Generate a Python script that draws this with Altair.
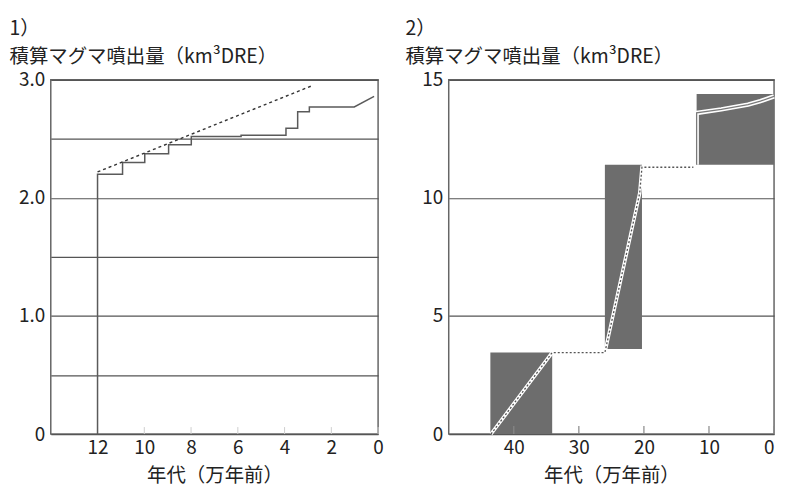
import altair as alt
import pandas as pd

FONT = "Noto Sans CJK JP"
TXT = "#222222"

# ---------------- Panel 1 data ----------------
p1_step_age = [12, 12, 10.93, 10.93, 9.98, 9.98, 8.96, 8.96, 7.99, 7.99, 5.86, 5.86,
               3.94, 3.94, 3.44, 3.44, 2.94, 2.94, 1.02, 0.17]
p1_step_vol = [0, 2.20, 2.20, 2.30, 2.30, 2.375, 2.375, 2.45, 2.45, 2.52, 2.52, 2.53,
               2.53, 2.59, 2.59, 2.73, 2.73, 2.77, 2.77, 2.86]
p1_trend_age = [12, 2.83]
p1_trend_vol = [2.22, 2.95]
p1_xticks = [12, 10, 8, 6, 4, 2, 0]
p1_yticks = [0, 0.5, 1.0, 1.5, 2.0, 2.5, 3.0]
p1_xdomain = [0, 14]
p1_ydomain = [0, 3]

# ---------------- Panel 2 data ----------------
p2_box_age_old = [43.6, 26.0, 11.9]
p2_box_age_young = [34.1, 20.3, 0]
p2_box_vol_low = [0, 3.6, 11.4]
p2_box_vol_high = [3.45, 11.4, 14.4]
p2_trend_age = [43.5, 34.1, 26.0, 20.65, 20.3, 12.4]
p2_trend_vol = [0, 3.45, 3.45, 10.2, 11.3, 11.3]
p2_recent_age = [11.9, 11.9, 8.1, 4.0, 2.1, 0]
p2_recent_vol = [11.4, 13.6, 13.75, 13.95, 14.1, 14.3]
p2_xticks = [40, 30, 20, 10, 0]
p2_yticks = [0, 5, 10, 15]
p2_xdomain = [0, 50]
p2_ydomain = [0, 15]

y_title_1 = ["1）", "積算マグマ噴出量（km³DRE）"]
y_title_2 = ["2）", "積算マグマ噴出量（km³DRE）"]
x_title = "年代（万年前）"

W1, W2, H = 329, 327, 356
LABEL_FS = 19
TITLE_FS = 19.5


def x_axis(ticks, flush):
    return alt.Axis(values=ticks, grid=False, domain=False, ticks=False,
                    labelPadding=5, labelFontSize=LABEL_FS, labelColor=TXT,
                    labelFlush=flush, labelFlushOffset=0,
                    title=x_title, titleFontSize=TITLE_FS, titleFontWeight="normal",
                    titleColor=TXT, titleY=42, titleBaseline="middle")


def y_axis(ticks, title, title_x, label_expr):
    return alt.Axis(values=ticks, grid=True, gridColor="#555555", gridWidth=1.2,
                    domain=False, ticks=False, labelPadding=6, labelFontSize=LABEL_FS,
                    labelColor=TXT, labelFlush=False, labelExpr=label_expr,
                    title=title, titleAngle=0, titleAlign="left",
                    titleBaseline="top", titleX=title_x, titleY=-61,
                    titleLineHeight=29, titleFontSize=TITLE_FS,
                    titleFontWeight="normal", titleColor=TXT)


# ---------------- Panel 1 ----------------
xs1 = alt.Scale(domain=p1_xdomain, reverse=True, nice=False, zero=False)
ys1 = alt.Scale(domain=p1_ydomain, nice=False, zero=False)
xa1 = x_axis(p1_xticks, False)
ya1 = y_axis(p1_yticks, y_title_1, -42,
             "datum.value == 0 ? '0' : (datum.value % 1 == 0 ? format(datum.value, '.1f') : '')")

step_df = pd.DataFrame({"age": p1_step_age, "vol": p1_step_vol,
                        "i": list(range(len(p1_step_age)))})
trend1_df = pd.DataFrame({"age": p1_trend_age, "vol": p1_trend_vol})
ticks1_df = pd.DataFrame({"age": p1_xticks})

steps = alt.Chart(step_df).mark_line(color="#5a5a5a", strokeWidth=1.5).encode(
    x=alt.X("age:Q", scale=xs1, axis=xa1),
    y=alt.Y("vol:Q", scale=ys1, axis=ya1),
    order="i:Q",
)
trend1 = alt.Chart(trend1_df).mark_line(color="#333333", strokeWidth=1.4,
                                        strokeDash=[3, 3]).encode(
    x=alt.X("age:Q", scale=xs1, axis=xa1),
    y=alt.Y("vol:Q", scale=ys1, axis=ya1),
)
ticks1 = alt.Chart(ticks1_df).mark_rule(color="#cfcfcf", strokeWidth=1).encode(
    x=alt.X("age:Q", scale=xs1, axis=xa1),
    y=alt.value(H), y2=alt.value(H - 7),
)
panel1 = alt.layer(ticks1, steps, trend1).properties(width=W1, height=H)

# ---------------- Panel 2 ----------------
xs2 = alt.Scale(domain=p2_xdomain, reverse=True, nice=False, zero=False)
ys2 = alt.Scale(domain=p2_ydomain, nice=False, zero=False)
xa2 = x_axis(p2_xticks, True)
ya2 = y_axis(p2_yticks, y_title_2, -44, "format(datum.value, 'd')")

box_df = pd.DataFrame({"a0": p2_box_age_old, "a1": p2_box_age_young,
                       "v0": p2_box_vol_low, "v1": p2_box_vol_high})
trend2_df = pd.DataFrame({"age": p2_trend_age, "vol": p2_trend_vol,
                          "i": list(range(len(p2_trend_age)))})
recent_df = pd.DataFrame({"age": p2_recent_age, "vol": p2_recent_vol,
                          "i": list(range(len(p2_recent_age)))})
ticks2_df = pd.DataFrame({"age": p2_xticks})

boxes = alt.Chart(box_df).mark_rect(color="#6d6d6d").encode(
    x=alt.X("a0:Q", scale=xs2, axis=xa2), x2="a1:Q",
    y=alt.Y("v0:Q", scale=ys2, axis=ya2), y2="v1:Q",
)
trend2_w = alt.Chart(trend2_df).mark_line(color="white", strokeWidth=3.5).encode(
    x=alt.X("age:Q", scale=xs2, axis=xa2),
    y=alt.Y("vol:Q", scale=ys2, axis=ya2), order="i:Q",
)
trend2_d = alt.Chart(trend2_df).mark_line(color="#555555", strokeWidth=1.3,
                                          strokeDash=[2, 2]).encode(
    x=alt.X("age:Q", scale=xs2, axis=xa2),
    y=alt.Y("vol:Q", scale=ys2, axis=ya2), order="i:Q",
)
recent_w = alt.Chart(recent_df).mark_line(color="white", strokeWidth=4.5).encode(
    x=alt.X("age:Q", scale=xs2, axis=xa2),
    y=alt.Y("vol:Q", scale=ys2, axis=ya2), order="i:Q",
)
recent_g = alt.Chart(recent_df).mark_line(color="#7a7a7a", strokeWidth=1.3).encode(
    x=alt.X("age:Q", scale=xs2, axis=xa2),
    y=alt.Y("vol:Q", scale=ys2, axis=ya2), order="i:Q",
)
ticks2 = alt.Chart(ticks2_df).mark_rule(color="#888888", strokeWidth=1.2).encode(
    x=alt.X("age:Q", scale=xs2, axis=xa2),
    y=alt.value(H), y2=alt.value(H - 8),
)
panel2 = alt.layer(boxes, ticks2, trend2_w, trend2_d, recent_w, recent_g).properties(
    width=W2, height=H)

chart = alt.hconcat(panel1, panel2, spacing=19).properties(
    padding={"left": 0, "top": 8, "right": 0, "bottom": 0},
    background="white",
).configure(font=FONT).configure_view(stroke="#666666", strokeWidth=1.5)

chart.save("out.html", embed_options={"renderer": "svg", "actions": False})
